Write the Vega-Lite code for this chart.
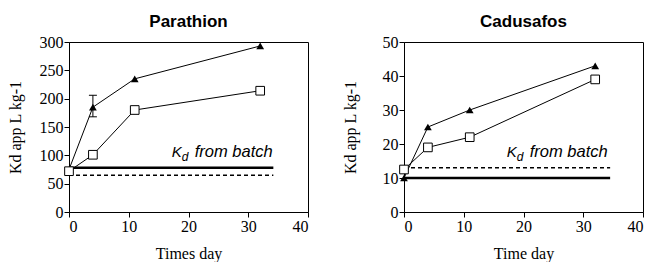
{
  "$schema": "https://vega.github.io/schema/vega-lite/v6.json",
  "background": "white",
  "padding": {"left": 6, "top": 12, "right": 5, "bottom": 0},
  "spacing": 32,
  "config": {
    "view": {"stroke": "black", "strokeWidth": 1},
    "axis": {"grid": false, "domainColor": "black", "tickColor": "black", "labelColor": "black", "titleColor": "black",
      "labelFont": "Liberation Serif", "labelFontSize": 16, "titleFont": "Liberation Serif", "titleFontSize": 16, "titleFontWeight": "normal", "tickSize": 5, "labelPadding": 1},
    "title": {"font": "Liberation Sans", "fontSize": 17, "fontWeight": "bold", "color": "black", "offset": 3}
  },
  "datasets": {
    "points": [
      {"compound": "Parathion", "series": "tri", "day": 0, "kd": 75},
      {"compound": "Parathion", "series": "tri", "day": 4, "kd": 185},
      {"compound": "Parathion", "series": "tri", "day": 11, "kd": 235},
      {"compound": "Parathion", "series": "tri", "day": 32, "kd": 293},
      {"compound": "Parathion", "series": "sq", "day": 0, "kd": 72},
      {"compound": "Parathion", "series": "sq", "day": 4, "kd": 101},
      {"compound": "Parathion", "series": "sq", "day": 11, "kd": 180},
      {"compound": "Parathion", "series": "sq", "day": 32, "kd": 214},
      {"compound": "Cadusafos", "series": "tri", "day": 0, "kd": 10},
      {"compound": "Cadusafos", "series": "tri", "day": 4, "kd": 25},
      {"compound": "Cadusafos", "series": "tri", "day": 11, "kd": 30},
      {"compound": "Cadusafos", "series": "tri", "day": 32, "kd": 43},
      {"compound": "Cadusafos", "series": "sq", "day": 0, "kd": 12.5},
      {"compound": "Cadusafos", "series": "sq", "day": 4, "kd": 19},
      {"compound": "Cadusafos", "series": "sq", "day": 11, "kd": 22},
      {"compound": "Cadusafos", "series": "sq", "day": 32, "kd": 39}
    ],
    "batch": [
      {"compound": "Parathion", "type": "solid", "x1": 0, "x2": 34.2, "y": 78},
      {"compound": "Parathion", "type": "dashed", "x1": 0, "x2": 34.2, "y": 65},
      {"compound": "Cadusafos", "type": "solid", "x1": 0, "x2": 34.5, "y": 10},
      {"compound": "Cadusafos", "type": "dashed", "x1": 0, "x2": 34.5, "y": 13}
    ],
    "err": [
      {"compound": "Parathion", "day": 4, "lo": 168, "hi": 206}
    ],
    "label": [
      {"compound": "Parathion", "x": 17.2, "y": 97},
      {"compound": "Cadusafos", "x": 17.2, "y": 16.2}
    ]
  },
  "hconcat": [
    {
      "width": 239, "height": 170,
      "title": "Parathion",
      "layer": [
        {"data": {"name": "batch"}, "transform": [{"filter": "datum.compound == 'Parathion' && datum.type == 'solid'"}],
         "mark": {"type": "rule", "color": "black", "strokeWidth": 2.5},
         "encoding": {
           "x": {"field": "x1", "type": "quantitative", "scale": {"domain": [0, 40], "nice": false}, "axis": {"values": [0, 10, 20, 30, 40], "tickCount": 5, "labelOverlap": false, "title": "Times day", "titleY": 33}},
           "x2": {"field": "x2"},
           "y": {"field": "y", "type": "quantitative", "scale": {"domain": [0, 300], "nice": false}, "axis": {"values": [0, 50, 100, 150, 200, 250, 300], "tickCount": 7, "labelOverlap": false, "title": "Kd app L kg-1", "titleX": -46, "titleY": 85}}}},
        {"data": {"name": "batch"}, "transform": [{"filter": "datum.compound == 'Parathion' && datum.type == 'dashed'"}],
         "mark": {"type": "rule", "color": "black", "strokeWidth": 1.5, "strokeDash": [4, 3]},
         "encoding": {"x": {"field": "x1", "type": "quantitative"}, "x2": {"field": "x2"}, "y": {"field": "y", "type": "quantitative"}}},
        {"data": {"name": "err"},
         "mark": {"type": "rule", "color": "black", "strokeWidth": 1},
         "encoding": {"x": {"field": "day", "type": "quantitative"}, "y": {"field": "lo", "type": "quantitative"}, "y2": {"field": "hi"}}},
        {"data": {"name": "err"},
         "mark": {"type": "tick", "color": "black", "orient": "horizontal", "size": 8, "thickness": 1, "opacity": 1},
         "encoding": {"x": {"field": "day", "type": "quantitative"}, "y": {"field": "hi", "type": "quantitative"}}},
        {"data": {"name": "err"},
         "mark": {"type": "tick", "color": "black", "orient": "horizontal", "size": 8, "thickness": 1, "opacity": 1},
         "encoding": {"x": {"field": "day", "type": "quantitative"}, "y": {"field": "lo", "type": "quantitative"}}},
        {"data": {"name": "points"}, "transform": [{"filter": "datum.compound == 'Parathion'"}],
         "mark": {"type": "line", "color": "black", "strokeWidth": 1},
         "encoding": {
           "x": {"field": "day", "type": "quantitative"},
           "y": {"field": "kd", "type": "quantitative"},
           "detail": {"field": "series"}}},
        {"data": {"name": "points"}, "transform": [{"filter": "datum.compound == 'Parathion' && datum.series == 'tri'"}],
         "mark": {"type": "point", "shape": "triangle-up", "filled": true, "color": "black", "size": 60, "opacity": 1},
         "encoding": {"x": {"field": "day", "type": "quantitative"}, "y": {"field": "kd", "type": "quantitative"}}},
        {"data": {"name": "points"}, "transform": [{"filter": "datum.compound == 'Parathion' && datum.series == 'sq'"}],
         "mark": {"type": "point", "shape": "square", "filled": true, "fill": "white", "stroke": "black", "strokeWidth": 1, "size": 75, "opacity": 1},
         "encoding": {"x": {"field": "day", "type": "quantitative"}, "y": {"field": "kd", "type": "quantitative"}}},
        {"data": {"name": "label"}, "transform": [{"filter": "datum.compound == 'Parathion'"}],
         "mark": {"type": "text", "text": "K", "align": "left", "baseline": "alphabetic", "font": "Liberation Sans", "fontStyle": "italic", "fontSize": 15, "color": "black"},
         "encoding": {"x": {"field": "x", "type": "quantitative"}, "y": {"field": "y", "type": "quantitative"}}},
        {"data": {"name": "label"}, "transform": [{"filter": "datum.compound == 'Parathion'"}],
         "mark": {"type": "text", "text": "d", "align": "left", "baseline": "alphabetic", "dx": 10, "dy": 4, "font": "Liberation Sans", "fontStyle": "italic", "fontSize": 12, "color": "black"},
         "encoding": {"x": {"field": "x", "type": "quantitative"}, "y": {"field": "y", "type": "quantitative"}}},
        {"data": {"name": "label"}, "transform": [{"filter": "datum.compound == 'Parathion'"}],
         "mark": {"type": "text", "text": "from batch", "align": "left", "baseline": "alphabetic", "dx": 23, "font": "Liberation Sans", "fontStyle": "italic", "fontSize": 16.5, "color": "black"},
         "encoding": {"x": {"field": "x", "type": "quantitative"}, "y": {"field": "y", "type": "quantitative"}}}
      ]
    },
    {
      "width": 239, "height": 170,
      "title": "Cadusafos",
      "layer": [
        {"data": {"name": "batch"}, "transform": [{"filter": "datum.compound == 'Cadusafos' && datum.type == 'solid'"}],
         "mark": {"type": "rule", "color": "black", "strokeWidth": 2.5},
         "encoding": {
           "x": {"field": "x1", "type": "quantitative", "scale": {"domain": [0, 40], "nice": false}, "axis": {"values": [0, 10, 20, 30, 40], "tickCount": 5, "labelOverlap": false, "title": "Time day", "titleY": 33}},
           "x2": {"field": "x2"},
           "y": {"field": "y", "type": "quantitative", "scale": {"domain": [0, 50], "nice": false}, "axis": {"values": [0, 10, 20, 30, 40, 50], "tickCount": 6, "labelOverlap": false, "title": "Kd app L kg-1", "titleX": -46, "titleY": 85}}}},
        {"data": {"name": "batch"}, "transform": [{"filter": "datum.compound == 'Cadusafos' && datum.type == 'dashed'"}],
         "mark": {"type": "rule", "color": "black", "strokeWidth": 1.5, "strokeDash": [4, 3]},
         "encoding": {"x": {"field": "x1", "type": "quantitative"}, "x2": {"field": "x2"}, "y": {"field": "y", "type": "quantitative"}}},
        {"data": {"name": "points"}, "transform": [{"filter": "datum.compound == 'Cadusafos'"}],
         "mark": {"type": "line", "color": "black", "strokeWidth": 1},
         "encoding": {
           "x": {"field": "day", "type": "quantitative"},
           "y": {"field": "kd", "type": "quantitative"},
           "detail": {"field": "series"}}},
        {"data": {"name": "points"}, "transform": [{"filter": "datum.compound == 'Cadusafos' && datum.series == 'tri'"}],
         "mark": {"type": "point", "shape": "triangle-up", "filled": true, "color": "black", "size": 60, "opacity": 1},
         "encoding": {"x": {"field": "day", "type": "quantitative"}, "y": {"field": "kd", "type": "quantitative"}}},
        {"data": {"name": "points"}, "transform": [{"filter": "datum.compound == 'Cadusafos' && datum.series == 'sq'"}],
         "mark": {"type": "point", "shape": "square", "filled": true, "fill": "white", "stroke": "black", "strokeWidth": 1, "size": 75, "opacity": 1},
         "encoding": {"x": {"field": "day", "type": "quantitative"}, "y": {"field": "kd", "type": "quantitative"}}},
        {"data": {"name": "label"}, "transform": [{"filter": "datum.compound == 'Cadusafos'"}],
         "mark": {"type": "text", "text": "K", "align": "left", "baseline": "alphabetic", "font": "Liberation Sans", "fontStyle": "italic", "fontSize": 15, "color": "black"},
         "encoding": {"x": {"field": "x", "type": "quantitative"}, "y": {"field": "y", "type": "quantitative"}}},
        {"data": {"name": "label"}, "transform": [{"filter": "datum.compound == 'Cadusafos'"}],
         "mark": {"type": "text", "text": "d", "align": "left", "baseline": "alphabetic", "dx": 10, "dy": 4, "font": "Liberation Sans", "fontStyle": "italic", "fontSize": 12, "color": "black"},
         "encoding": {"x": {"field": "x", "type": "quantitative"}, "y": {"field": "y", "type": "quantitative"}}},
        {"data": {"name": "label"}, "transform": [{"filter": "datum.compound == 'Cadusafos'"}],
         "mark": {"type": "text", "text": "from batch", "align": "left", "baseline": "alphabetic", "dx": 23, "font": "Liberation Sans", "fontStyle": "italic", "fontSize": 16.5, "color": "black"},
         "encoding": {"x": {"field": "x", "type": "quantitative"}, "y": {"field": "y", "type": "quantitative"}}}
      ]
    }
  ]
}
